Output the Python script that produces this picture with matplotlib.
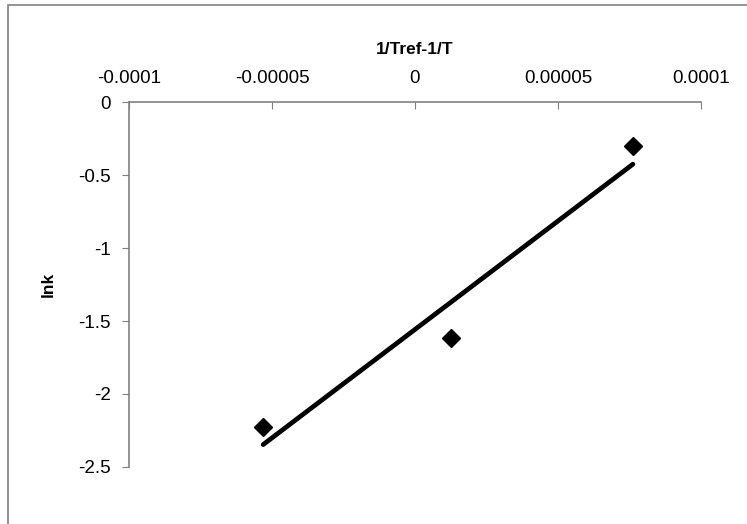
import numpy as np
import matplotlib
matplotlib.use('Agg')
import matplotlib.pyplot as plt
from matplotlib.patches import Rectangle

# data
x_vals = [-0.0000531, 0.0000126, 0.0000762]
lnk = [-2.226, -1.616, -0.301]

x_ticks = [-0.0001, -0.00005, 0, 0.00005, 0.0001]
x_labels = ['-0.0001', '-0.00005', '0', '0.00005', '0.0001']
y_ticks = [0, -0.5, -1, -1.5, -2, -2.5]
y_labels = ['0', '-0.5', '-1', '-1.5', '-2', '-2.5']

plt.rcParams['font.family'] = ['Liberation Sans', 'DejaVu Sans']

fig = plt.figure(figsize=(7.47, 5.24), dpi=100)
ax = fig.add_axes([0.1727, 0.1088, 0.7657, 0.6965])

# chart area border
fig.patches.append(Rectangle((8 / 747, -0.01), 1.0, 1.0 - 5 / 524 + 0.01,
                             transform=fig.transFigure, fill=False,
                             edgecolor='#808080', linewidth=1.2))

# linear trendline
coef = np.polyfit(x_vals, lnk, 1)
xs = np.array([min(x_vals), max(x_vals)])
ax.plot(xs, np.polyval(coef, xs), color='black', linewidth=3.4,
        solid_capstyle='round', zorder=2)
ax.plot(x_vals, lnk, linestyle='none', marker='D', markersize=9,
        color='black', zorder=3)

ax.set_xlim(-0.0001, 0.0001)
ax.set_ylim(-2.5, 0)
ax.xaxis.tick_top()
ax.xaxis.set_label_position('top')
ax.set_xticks(x_ticks)
ax.set_xticklabels(x_labels)
ax.set_yticks(y_ticks)
ax.set_yticklabels(y_labels)

ax.tick_params(axis='x', direction='in', length=5, color='#808080',
               labelsize=13.5, pad=11)
ax.tick_params(axis='y', direction='out', length=5, color='#808080',
               labelsize=13.5, pad=8)

for s in ['right', 'bottom']:
    ax.spines[s].set_visible(False)
for s in ['left', 'top']:
    ax.spines[s].set_color('#808080')
    ax.spines[s].set_linewidth(1.2)

ax.set_xlabel('1/Tref-1/T', fontsize=12.5, fontweight='bold', labelpad=11)
ax.set_ylabel('lnk', fontsize=12.5, fontweight='bold', labelpad=16)

fig.savefig('out.png', dpi=100)
